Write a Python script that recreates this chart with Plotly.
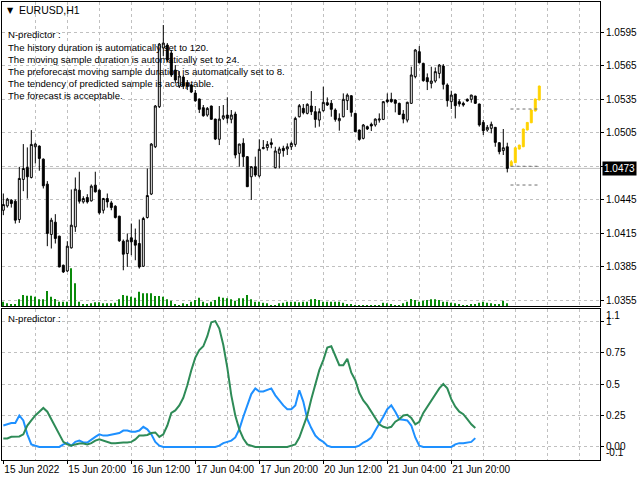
import plotly.graph_objects as go

# ---- data (EURUSD H1, bar 0 = 15 Jun 2022 04:00) ----
opens = [1.04356, 1.04395, 1.04446, 1.04437, 1.04273, 1.04632, 1.04739, 1.04650, 1.04925, 1.04931,
         1.04814, 1.04590, 1.04139, 1.04249, 1.04124, 1.03863, 1.03812, 1.04019, 1.04207, 1.04536,
         1.04431, 1.04470, 1.04440, 1.04581, 1.04536, 1.04356, 1.04461, 1.04422, 1.04392, 1.04303,
         1.04079, 1.03968, 1.04109, 1.04088, 1.04058, 1.03854, 1.04291, 1.04501, 1.04925, 1.05284,
         1.05810, 1.05836, 1.05765, 1.05612, 1.05469, 1.05550, 1.05496, 1.05478, 1.05406, 1.05353,
         1.05275, 1.05209, 1.05290, 1.05173, 1.04992, 1.05180, 1.05209, 1.05171, 1.05218, 1.04866,
         1.04956, 1.04836, 1.04656, 1.04746, 1.04663, 1.04908, 1.04917, 1.04961, 1.04737, 1.04866,
         1.04911, 1.04905, 1.04925, 1.04946, 1.05194, 1.05269, 1.05224, 1.05290, 1.05239, 1.05164,
         1.05248, 1.05320, 1.05314, 1.05254, 1.05158, 1.05194, 1.05338, 1.05382, 1.05224, 1.05075,
         1.05000, 1.05105, 1.05126, 1.05120, 1.05164, 1.05170, 1.05344, 1.05350, 1.05344, 1.05314,
         1.05218, 1.05164, 1.05314, 1.05553, 1.05777, 1.05672, 1.05544, 1.05493, 1.05514, 1.05582,
         1.05648, 1.05478, 1.05329, 1.05397, 1.05329, 1.05314, 1.05350, 1.05350, 1.05379, 1.05308,
         1.05143, 1.05075, 1.05090, 1.05099, 1.04961, 1.04890, 1.04925]
highs = [1.04506, 1.04467, 1.04455, 1.04452, 1.04745, 1.04949, 1.04919, 1.05074, 1.04961, 1.04937,
         1.04820, 1.04617, 1.04288, 1.04321, 1.04127, 1.03869, 1.04079, 1.04542, 1.04650, 1.04701,
         1.04482, 1.04500, 1.04587, 1.04701, 1.04542, 1.04467, 1.04506, 1.04440, 1.04401, 1.04306,
         1.04094, 1.04148, 1.04237, 1.04192, 1.04273, 1.04297, 1.04730, 1.04958, 1.05299, 1.05854,
         1.06016, 1.05854, 1.05792, 1.05657, 1.05603, 1.05568, 1.05523, 1.05487, 1.05433, 1.05356,
         1.05299, 1.05281, 1.05293, 1.05176, 1.05290, 1.05299, 1.05368, 1.05254, 1.05239, 1.04952,
         1.05001, 1.04842, 1.04752, 1.04836, 1.04992, 1.04985, 1.04976, 1.05000, 1.04925, 1.04925,
         1.04934, 1.04955, 1.04970, 1.05194, 1.05308, 1.05308, 1.05314, 1.05424, 1.05290, 1.05269,
         1.05463, 1.05367, 1.05344, 1.05269, 1.05224, 1.05403, 1.05403, 1.05388, 1.05227, 1.05078,
         1.05129, 1.05114, 1.05141, 1.05179, 1.05224, 1.05332, 1.05403, 1.05409, 1.05350, 1.05320,
         1.05254, 1.05329, 1.05642, 1.05801, 1.05827, 1.05678, 1.05582, 1.05642, 1.05636, 1.05666,
         1.05666, 1.05493, 1.05427, 1.05400, 1.05350, 1.05329, 1.05358, 1.05391, 1.05382, 1.05311,
         1.05164, 1.05120, 1.05150, 1.05102, 1.04964, 1.05084, 1.04961]
lows = [1.04312, 1.04380, 1.04380, 1.04237, 1.04243, 1.04527, 1.04461, 1.04641, 1.04775, 1.04710,
        1.04551, 1.04034, 1.04013, 1.04058, 1.03845, 1.03794, 1.03803, 1.04013, 1.04162, 1.04416,
        1.04416, 1.04416, 1.04434, 1.04515, 1.04318, 1.04327, 1.04380, 1.04356, 1.04282, 1.04073,
        1.03818, 1.03848, 1.03953, 1.03908, 1.03833, 1.03848, 1.04282, 1.04492, 1.04913, 1.05272,
        1.05738, 1.05684, 1.05550, 1.05496, 1.05451, 1.05442, 1.05433, 1.05406, 1.05328, 1.05227,
        1.05194, 1.05194, 1.05168, 1.04985, 1.04940, 1.05164, 1.05135, 1.05135, 1.04821, 1.04746,
        1.04746, 1.04564, 1.04448, 1.04656, 1.04650, 1.04902, 1.04890, 1.04911, 1.04731, 1.04731,
        1.04836, 1.04851, 1.04896, 1.04925, 1.05188, 1.05215, 1.05215, 1.05209, 1.05096, 1.05105,
        1.05239, 1.05290, 1.05194, 1.05150, 1.05069, 1.05188, 1.05254, 1.05194, 1.05054, 1.04979,
        1.04991, 1.05075, 1.05066, 1.05105, 1.05141, 1.05164, 1.05314, 1.05320, 1.05233, 1.05209,
        1.05135, 1.05143, 1.05308, 1.05538, 1.05672, 1.05508, 1.05433, 1.05448, 1.05499, 1.05538,
        1.05439, 1.05284, 1.05263, 1.05179, 1.05284, 1.05284, 1.05329, 1.05320, 1.05308, 1.05105,
        1.05030, 1.05060, 1.05045, 1.04925, 1.04857, 1.04851, 1.04695]
closes = [1.04407, 1.04455, 1.04416, 1.04267, 1.04641, 1.04730, 1.04656, 1.04946, 1.04949, 1.04820,
          1.04575, 1.04148, 1.04267, 1.04103, 1.03848, 1.03803, 1.04034, 1.04222, 1.04545, 1.04437,
          1.04461, 1.04431, 1.04572, 1.04521, 1.04333, 1.04461, 1.04431, 1.04380, 1.04291, 1.04082,
          1.03962, 1.04088, 1.04073, 1.04043, 1.03848, 1.04282, 1.04488, 1.04949, 1.05290, 1.05845,
          1.05854, 1.05702, 1.05568, 1.05523, 1.05559, 1.05469, 1.05469, 1.05415, 1.05337, 1.05260,
          1.05203, 1.05269, 1.05171, 1.04994, 1.05173, 1.05203, 1.05180, 1.05209, 1.04851, 1.04949,
          1.04836, 1.04567, 1.04746, 1.04672, 1.04902, 1.04917, 1.04946, 1.04946, 1.04887, 1.04905,
          1.04890, 1.04925, 1.04955, 1.05179, 1.05293, 1.05230, 1.05305, 1.05239, 1.05170, 1.05239,
          1.05323, 1.05299, 1.05260, 1.05170, 1.05179, 1.05350, 1.05388, 1.05233, 1.05060, 1.04991,
          1.05120, 1.05084, 1.05111, 1.05173, 1.05173, 1.05329, 1.05329, 1.05329, 1.05314, 1.05215,
          1.05173, 1.05323, 1.05568, 1.05792, 1.05678, 1.05517, 1.05508, 1.05514, 1.05598, 1.05657,
          1.05484, 1.05338, 1.05388, 1.05293, 1.05308, 1.05299, 1.05335, 1.05388, 1.05314, 1.05120,
          1.05069, 1.05099, 1.05126, 1.04964, 1.04881, 1.04916, 1.04731]
volumes = [910, 560, 420, 420, 1400, 2310, 2170, 2170, 1960, 1400,
           1400, 3150, 1960, 1470, 910, 910, 910, 7910, 4760, 910,
           350, 420, 560, 770, 770, 560, 560, 560, 700, 1400,
           2310, 2170, 1960, 1750, 3010, 2660, 2660, 2660, 2100, 2100,
           1960, 1400, 1120, 420, 210, 560, 420, 910, 1260, 1750,
           910, 560, 910, 1260, 1960, 1750, 1610, 1400, 1120, 1610,
           1610, 2310, 1400, 910, 910, 700, 560, 210, 210, 560,
           700, 910, 910, 910, 770, 910, 910, 1400, 1470, 1260,
           910, 910, 910, 910, 910, 700, 420, 420, 210, 210,
           210, 210, 210, 210, 210, 700, 560, 420, 210, 210,
           560, 910, 1470, 1260, 910, 1120, 1260, 1400, 1400, 1260,
           910, 910, 700, 560, 420, 210, 210, 350, 420, 700,
           910, 700, 560, 420, 420, 1120, 560]

# forecast bars (yellow), following the last real bar
fc_open = [1.04755, 1.04782, 1.04904, 1.04925, 1.05075, 1.05140, 1.05245, 1.05344]
fc_high = [1.04806, 1.04919, 1.04943, 1.05087, 1.05146, 1.05257, 1.05356, 1.05472]
fc_low = [1.04746, 1.04779, 1.04901, 1.04922, 1.05072, 1.05137, 1.05242, 1.05341]
fc_close = [1.04791, 1.04916, 1.04940, 1.05084, 1.05143, 1.05254, 1.05353, 1.05469]
fc_levels = [1.05263, 1.04750, 1.04582]

# N-predictor sub-window lines
blue_line = [0.17, 0.18, 0.19, 0.19, 0.25, 0.21, 0.10, 0.02, 0.01, 0.0,
             0.0, 0.0, 0.0, 0.0, 0.0, 0.02, 0.03, 0.01, 0.04, 0.05,
             0.035, 0.035, 0.06, 0.08, 0.10, 0.09, 0.09, 0.095, 0.10, 0.11,
             0.13, 0.13, 0.12, 0.12, 0.13, 0.16, 0.14, 0.10, 0.04, 0.01,
             0.0, 0.0, 0.0, 0.0, 0.0, 0.0, 0.0, 0.0, 0.0, 0.0,
             0.0, 0.0, 0.0, 0.0, 0.01, 0.03, 0.04, 0.05, 0.075, 0.14,
             0.24, 0.33, 0.42, 0.465, 0.44, 0.44, 0.45, 0.465, 0.41, 0.37,
             0.33, 0.30, 0.30, 0.33, 0.45, 0.36, 0.22, 0.15, 0.09, 0.06,
             0.04, 0.01, 0.0, 0.0, 0.0, 0.0, 0.0, 0.0, 0.0, 0.01,
             0.035, 0.05, 0.075, 0.13, 0.18, 0.24, 0.30, 0.33, 0.28, 0.22,
             0.215, 0.21, 0.17, 0.075, 0.01, 0.0, 0.0, 0.0, 0.0, 0.0,
             0.0, 0.0, 0.0, 0.02, 0.03, 0.03, 0.035, 0.04, 0.07]
green_line = [0.067, 0.067, 0.08, 0.083, 0.083, 0.10, 0.17, 0.21, 0.25, 0.28,
              0.31, 0.28, 0.22, 0.16, 0.09, 0.04, 0.02, 0.01, 0.02, 0.027,
              0.027, 0.02, 0.03, 0.05, 0.06, 0.05, 0.035, 0.03, 0.03, 0.035,
              0.035, 0.035, 0.04, 0.06, 0.09, 0.09, 0.095, 0.11, 0.115, 0.08,
              0.10, 0.17, 0.27, 0.29, 0.33, 0.39, 0.49, 0.61, 0.71, 0.77,
              0.80, 0.88, 0.99, 1.0, 0.94, 0.81, 0.63, 0.41, 0.25, 0.14,
              0.067, 0.02, 0.01, 0.0, 0.0, 0.0, 0.0, 0.0, 0.0, 0.0,
              0.0, 0.0, 0.01, 0.02, 0.075, 0.16, 0.25, 0.38, 0.505, 0.61,
              0.69, 0.79, 0.80, 0.73, 0.65, 0.65, 0.70, 0.59, 0.53, 0.43,
              0.37, 0.33, 0.28, 0.24, 0.18, 0.16, 0.15, 0.16, 0.20, 0.22,
              0.25, 0.255, 0.23, 0.18, 0.20, 0.27, 0.32, 0.36, 0.41, 0.465,
              0.50, 0.465, 0.38, 0.32, 0.28, 0.26, 0.22, 0.18, 0.15]

time_labels = ["15 Jun 2022", "15 Jun 20:00", "16 Jun 12:00", "17 Jun 04:00",
               "17 Jun 20:00", "20 Jun 12:00", "21 Jun 04:00", "21 Jun 20:00"]
price_ticks = [1.0355, 1.0385, 1.0415, 1.0445, 1.0475, 1.0505, 1.0535, 1.0565, 1.0595]
ind_ticks = [0.0, 0.25, 0.5, 0.75, 1.0]
ind_tick_text = ["0.00", "0.25", "0.5", "0.75", "1"]

comment_lines = ["N-predictor :",
                 "The history duration is automatically set to 120.",
                 "The moving sample duration is automatically set to 24.",
                 "The preforecast moving sample duration is automatically set to 8.",
                 "The tendency of predicted sample is acceptable.",
                 "The forecast is acceptable."]

# ---- derived positions ----
bars = list(range(len(closes)))
fc_bars = list(range(len(closes), len(closes) + len(fc_close)))
ind_bars = list(range(len(blue_line)))
label_bars = [16 * k for k in range(len(time_labels))]
grid_bars = list(range(8, 150, 8))
last_price = closes[-1]

W, H = 640, 480
FONT = "Liberation Sans"
GRID = "#c0c0c0"
X_RANGE = [-0.33, 149.18]
X_DOMAIN = [2 / W, 600 / W]


def py(p):
    return 1 - p / H


fig = go.Figure()

fig.add_trace(go.Bar(
    x=bars, y=volumes, xaxis="x", yaxis="y3", width=0.18,
    marker=dict(color="#0a8a0a", line=dict(width=0)), hoverinfo="skip"))

fig.add_trace(go.Candlestick(
    x=bars, open=opens, high=highs, low=lows, close=closes,
    xaxis="x", yaxis="y", whiskerwidth=0,
    increasing=dict(line=dict(color="black", width=1), fillcolor="white"),
    decreasing=dict(line=dict(color="black", width=1), fillcolor="black"),
    hoverinfo="skip"))

fig.add_trace(go.Candlestick(
    x=fc_bars, open=fc_open, high=fc_high, low=fc_low, close=fc_close,
    xaxis="x", yaxis="y", whiskerwidth=0,
    increasing=dict(line=dict(color="#ffd200", width=1), fillcolor="#ffd200"),
    decreasing=dict(line=dict(color="#ffd200", width=1), fillcolor="#ffd200"),
    hoverinfo="skip"))

for lvl in fc_levels:
    fig.add_trace(go.Scatter(
        x=[fc_bars[0] - 0.2, fc_bars[-1]], y=[lvl, lvl], mode="lines",
        xaxis="x", yaxis="y", line=dict(color="#6e6e6e", width=1, dash="3px,3px"),
        hoverinfo="skip"))

fig.add_trace(go.Scatter(
    x=ind_bars, y=blue_line, mode="lines", xaxis="x2", yaxis="y2",
    line=dict(color="#1e90ff", width=2), hoverinfo="skip"))
fig.add_trace(go.Scatter(
    x=ind_bars, y=green_line, mode="lines", xaxis="x2", yaxis="y2",
    line=dict(color="#2e8b57", width=2), hoverinfo="skip"))

# current price line
fig.add_shape(type="line", xref="paper", yref="y", x0=X_DOMAIN[0], x1=X_DOMAIN[1],
              y0=last_price, y1=last_price, line=dict(color="#c0c0c0", width=1), layer="below")

axis_common = dict(showline=True, mirror=True, linecolor="black", linewidth=1,
                   zeroline=False, gridcolor=GRID, griddash="3px,3px",
                   gridwidth=1, fixedrange=True, automargin=False)

fig.update_layout(
    width=W, height=H, margin=dict(l=0, r=0, t=0, b=0, autoexpand=False),
    paper_bgcolor="white", plot_bgcolor="white", showlegend=False,
    font=dict(family=FONT, size=10, color="black"),
    xaxis=dict(domain=X_DOMAIN, range=X_RANGE, anchor="y", tickvals=grid_bars,
               showticklabels=False, ticks="", showgrid=True,
               rangeslider=dict(visible=False), **axis_common),
    yaxis=dict(domain=[py(306), py(2)], range=[1.03498, 1.06222], anchor="x", side="right",
               tickvals=price_ticks,
               ticktext=["" if abs(t - 1.0475) < 1e-9 else f"{t:.4f}" for t in price_ticks],
               ticks="outside", ticklen=3, tickcolor="black", showgrid=True, **axis_common),
    yaxis3=dict(overlaying="y", range=[0, 63840], visible=False, fixedrange=True),
    xaxis2=dict(domain=X_DOMAIN, range=X_RANGE, anchor="y2", tickvals=label_bars,
                ticktext=time_labels, ticklabelposition="outside right", tickangle=0,
                ticks="outside", ticklen=3, tickcolor="black", showgrid=False,
                minor=dict(tickvals=grid_bars, showgrid=True, gridcolor=GRID,
                           griddash="3px,3px", ticks=""),
                **axis_common),
    yaxis2=dict(domain=[py(459.5), py(308.5)], range=[-0.1, 1.1], anchor="x2", side="right",
                tickvals=ind_ticks, ticktext=ind_tick_text, showgrid=True,
                ticks="outside", ticklen=3, tickcolor="black", **axis_common),
)

# texts in the chart window
fig.add_annotation(text="\u25bc", xref="paper", yref="paper", x=5 / W, y=py(10),
                   xanchor="left", yanchor="middle", showarrow=False,
                   font=dict(size=8, family="DejaVu Sans"))
fig.add_annotation(text="EURUSD,H1", xref="paper", yref="paper", x=17 / W, y=py(10),
                   xanchor="left", yanchor="middle", showarrow=False, font=dict(size=10.5))
for k, line in enumerate(comment_lines):
    fig.add_annotation(text=line, xref="paper", yref="paper", x=6 / W, y=py(35 + 12.2 * k),
                       xanchor="left", yanchor="middle", showarrow=False, font=dict(size=9.6))
fig.add_annotation(text="N-predictor :", xref="paper", yref="paper", x=6 / W, y=py(318),
                   xanchor="left", yanchor="middle", showarrow=False, font=dict(size=9.6))

# current price tag
fig.add_annotation(text=f"{last_price:.4f}", xref="paper", yref="y", x=602 / W, y=last_price,
                   xanchor="left", yanchor="middle", showarrow=False, bgcolor="black",
                   borderpad=1, font=dict(size=10, color="white"))

# sub-window scale extremes
fig.add_annotation(text="1.1", xref="paper", yref="y2", x=604 / W, y=1.1, yshift=-7,
                   xanchor="left", yanchor="middle", showarrow=False, font=dict(size=10))
fig.add_annotation(text="-0.1", xref="paper", yref="y2", x=604 / W, y=-0.1, yshift=7,
                   xanchor="left", yanchor="middle", showarrow=False, font=dict(size=10))

fig.write_html("out.html", config={"displayModeBar": False},
               post_script="document.body.style.margin='0px';")
